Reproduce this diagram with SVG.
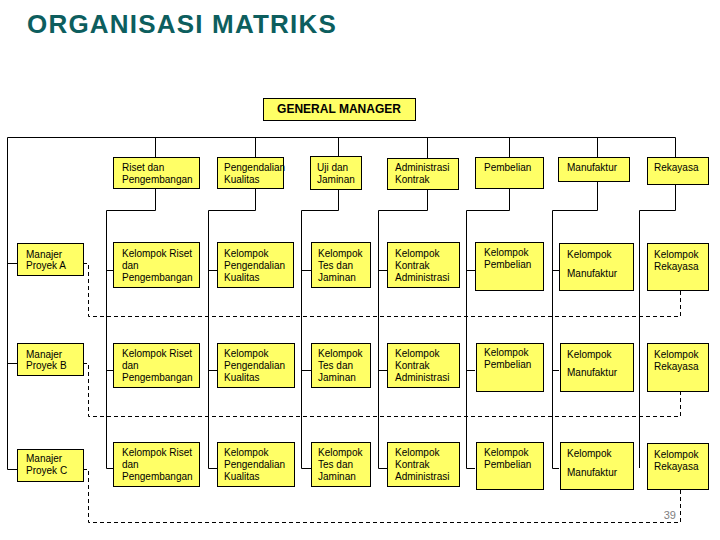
<svg xmlns="http://www.w3.org/2000/svg" width="720" height="540" viewBox="0 0 720 540">
<style>
.b{fill:#FFFF66;stroke:#000;stroke-width:1}
.t{font-family:"Liberation Sans",Arial,sans-serif;font-size:10px;letter-spacing:0px;fill:#000}
.l{fill:none;stroke:#000;stroke-width:1}
.d{fill:none;stroke:#000;stroke-width:1;stroke-dasharray:4,3}
</style>
<rect width="720" height="540" fill="#fff"/>
<text x="27" y="33" font-family="Liberation Sans,Arial,sans-serif" font-weight="bold" font-size="26" letter-spacing="1.2" fill="#0D5E5E">ORGANISASI MATRIKS</text>
<g id="connectors">
<path class="l" d="M7.5,137.5H675.5M7.5,137.5V469.5H17"/>
<path class="l" d="M7.5,263.5H17M7.5,363.5H17"/>
<path class="l" d="M155.5,137.5V157M155.5,188V210.5H106.5V468.5H113M106.5,270.5H113M106.5,370.5H113"/>
<path class="l" d="M255.5,137.5V157M255.5,188V210.5H208.5V468.5H217M208.5,270.5H217M208.5,370.5H217"/>
<path class="l" d="M338.5,137.5V156M338.5,190V210.5H301.5V468.5H311M301.5,270.5H311M301.5,370.5H311"/>
<path class="l" d="M427.5,137.5V158M427.5,189V210.5H378.5V468.5H387M378.5,270.5H387M378.5,370.5H387"/>
<path class="l" d="M509.5,137.5V157M509.5,188V210.5H466.5V468.5H475M466.5,270.5H475M466.5,370.5H475"/>
<path class="l" d="M597.5,137.5V157M597.5,181V210.5H552.5V468.5H559M552.5,270.5H559M552.5,370.5H559"/>
<path class="l" d="M675.5,137.5V157M675.5,184V210.5H639.5V468"/>
<path class="d" d="M83,263.5H88.5V316.5H680.5V291"/>
<path class="d" d="M83,363.5H88.5V416.5H680.5V391"/>
<path class="d" d="M83,469.5H88.5V522.5H680.5V489"/>
</g>
<g id="gm"><rect class="b" x="263.5" y="98.5" width="152" height="22"/><text x="339" y="113" text-anchor="middle" font-family="Liberation Sans,Arial,sans-serif" font-weight="bold" font-size="12" fill="#000">GENERAL MANAGER</text></g>
<g id="f-riset"><rect class="b" x="113.5" y="157.5" width="86" height="31"/><text class="t" x="122" y="170.5">Riset dan</text><text class="t" x="122" y="182.5">Pengembangan</text></g>
<g id="f-qc"><rect class="b" x="217.5" y="157.5" width="66" height="31"/><text class="t" x="224" y="170.5">Pengendalian</text><text class="t" x="224" y="182.5">Kualitas</text></g>
<g id="f-uji"><rect class="b" x="310.5" y="156.5" width="51" height="33"/><text class="t" x="317" y="170.5">Uji dan</text><text class="t" x="317" y="182.5">Jaminan</text></g>
<g id="f-adm"><rect class="b" x="387.5" y="158.5" width="71" height="31"/><text class="t" x="395" y="170.5">Administrasi</text><text class="t" x="395" y="183">Kontrak</text></g>
<g id="f-beli"><rect class="b" x="475.5" y="157.5" width="68" height="31"/><text class="t" x="484" y="170.5">Pembelian</text></g>
<g id="f-manu"><rect class="b" x="558.5" y="157.5" width="71" height="24"/><text class="t" x="567" y="170.5">Manufaktur</text></g>
<g id="f-rek"><rect class="b" x="647.5" y="157.5" width="61" height="27"/><text class="t" x="654" y="170.5" letter-spacing="0.5">Rekayasa</text></g>
<g id="pm-a"><rect class="b" x="17.5" y="243.5" width="66" height="32"/><text class="t" x="26" y="257.5">Manajer</text><text class="t" x="26" y="269">Proyek A</text></g>
<g id="a-riset"><rect class="b" x="113.5" y="242.5" width="86" height="45"/><text class="t" x="122" y="256.5">Kelompok Riset</text><text class="t" x="122" y="268.5">dan</text><text class="t" x="122" y="280.5">Pengembangan</text></g>
<g id="a-qc"><rect class="b" x="217.5" y="242.5" width="76" height="45"/><text class="t" x="224" y="256.5">Kelompok</text><text class="t" x="224" y="268.5">Pengendalian</text><text class="t" x="224" y="280.5">Kualitas</text></g>
<g id="a-tes"><rect class="b" x="311.5" y="242.5" width="59" height="45"/><text class="t" x="318" y="256.5">Kelompok</text><text class="t" x="318" y="268.5">Tes dan</text><text class="t" x="318" y="280.5">Jaminan</text></g>
<g id="a-adm"><rect class="b" x="387.5" y="242.5" width="72" height="45"/><text class="t" x="395" y="256.5">Kelompok</text><text class="t" x="395" y="268.5">Kontrak</text><text class="t" x="395" y="280.5">Administrasi</text></g>
<g id="a-beli"><rect class="b" x="475.5" y="242.5" width="68" height="48"/><text class="t" x="484" y="256">Kelompok</text><text class="t" x="484" y="267.5">Pembelian</text></g>
<g id="a-manu"><rect class="b" x="559.5" y="243.5" width="74" height="47"/><text class="t" x="567" y="257.5">Kelompok</text><text class="t" x="567" y="276.5">Manufaktur</text></g>
<g id="a-rek"><rect class="b" x="647.5" y="243.5" width="61" height="47"/><text class="t" x="654" y="257.5">Kelompok</text><text class="t" x="654" y="269.5">Rekayasa</text></g>
<g id="pm-b"><rect class="b" x="17.5" y="343.5" width="66" height="32"/><text class="t" x="26" y="357.5">Manajer</text><text class="t" x="26" y="369">Proyek B</text></g>
<g id="b-riset"><rect class="b" x="113.5" y="343.5" width="86" height="44"/><text class="t" x="122" y="356.5">Kelompok Riset</text><text class="t" x="122" y="368.5">dan</text><text class="t" x="122" y="380.5">Pengembangan</text></g>
<g id="b-qc"><rect class="b" x="217.5" y="343.5" width="77" height="44"/><text class="t" x="224" y="356.5">Kelompok</text><text class="t" x="224" y="368.5">Pengendalian</text><text class="t" x="224" y="380.5">Kualitas</text></g>
<g id="b-tes"><rect class="b" x="311.5" y="343.5" width="59" height="44"/><text class="t" x="318" y="356.5">Kelompok</text><text class="t" x="318" y="368.5">Tes dan</text><text class="t" x="318" y="380.5">Jaminan</text></g>
<g id="b-adm"><rect class="b" x="387.5" y="343.5" width="72" height="44"/><text class="t" x="395" y="356.5">Kelompok</text><text class="t" x="395" y="368.5">Kontrak</text><text class="t" x="395" y="380.5">Administrasi</text></g>
<g id="b-beli"><rect class="b" x="476.5" y="343.5" width="67" height="48"/><text class="t" x="484" y="356">Kelompok</text><text class="t" x="484" y="367.5">Pembelian</text></g>
<g id="b-manu"><rect class="b" x="560.5" y="343.5" width="73" height="48"/><text class="t" x="567" y="357.5">Kelompok</text><text class="t" x="567" y="376">Manufaktur</text></g>
<g id="b-rek"><rect class="b" x="647.5" y="343.5" width="61" height="48"/><text class="t" x="654" y="357.5">Kelompok</text><text class="t" x="654" y="369.5">Rekayasa</text></g>
<g id="pm-c"><rect class="b" x="17.5" y="449.5" width="66" height="32"/><text class="t" x="26" y="462">Manajer</text><text class="t" x="26" y="474">Proyek C</text></g>
<g id="c-riset"><rect class="b" x="113.5" y="442.5" width="86" height="44"/><text class="t" x="122" y="456">Kelompok Riset</text><text class="t" x="122" y="468">dan</text><text class="t" x="122" y="480">Pengembangan</text></g>
<g id="c-qc"><rect class="b" x="217.5" y="442.5" width="77" height="44"/><text class="t" x="224" y="456">Kelompok</text><text class="t" x="224" y="468">Pengendalian</text><text class="t" x="224" y="480">Kualitas</text></g>
<g id="c-tes"><rect class="b" x="311.5" y="442.5" width="59" height="44"/><text class="t" x="318" y="456">Kelompok</text><text class="t" x="318" y="468">Tes dan</text><text class="t" x="318" y="480">Jaminan</text></g>
<g id="c-adm"><rect class="b" x="387.5" y="442.5" width="72" height="44"/><text class="t" x="395" y="456">Kelompok</text><text class="t" x="395" y="468">Kontrak</text><text class="t" x="395" y="480">Administrasi</text></g>
<g id="c-beli"><rect class="b" x="476.5" y="442.5" width="67" height="47"/><text class="t" x="484" y="456">Kelompok</text><text class="t" x="484" y="467.5">Pembelian</text></g>
<g id="c-manu"><rect class="b" x="560.5" y="442.5" width="73" height="47"/><text class="t" x="567" y="457">Kelompok</text><text class="t" x="567" y="476">Manufaktur</text></g>
<g id="c-rek"><rect class="b" x="647.5" y="443.5" width="61" height="46"/><text class="t" x="654" y="457.5">Kelompok</text><text class="t" x="654" y="469.5">Rekayasa</text></g>
<text x="676" y="519" text-anchor="end" font-family="Liberation Sans,Arial,sans-serif" font-size="11" fill="#808080">39</text>
</svg>
